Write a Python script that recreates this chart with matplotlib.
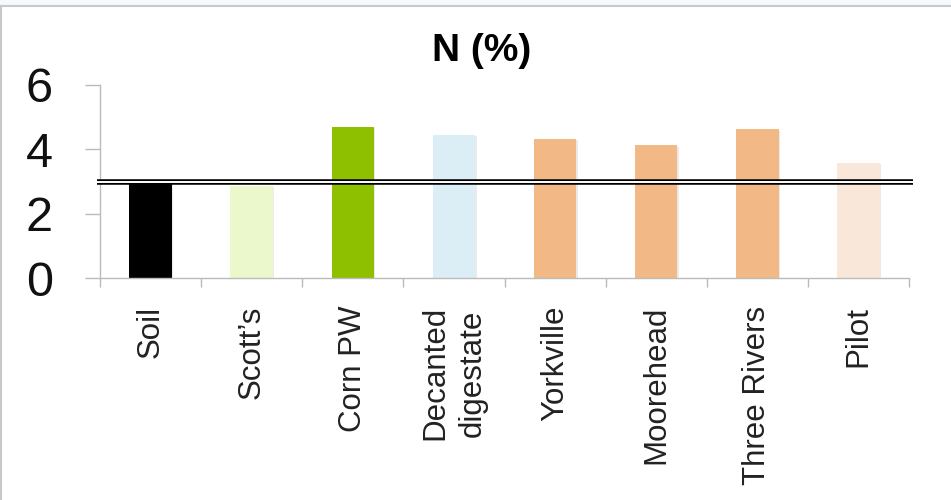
import matplotlib
matplotlib.use('Agg')
import matplotlib.pyplot as plt
import matplotlib.patheffects as pe
from matplotlib.lines import Line2D
from matplotlib.patches import Rectangle

## dados
categorias = ['Soil', 'Scott\u2019s', 'Corn PW', 'Decanted\ndigestate',
              'Yorkville', 'Moorehead', 'Three Rivers', 'Pilot']
n_pct = [2.93, 2.87, 4.70, 4.45, 4.32, 4.12, 4.62, 3.59]
cores = ['#000000', '#EBF8CC', '#8FC000', '#DBEEF5',
         '#F2B987', '#F2B987', '#F2B987', '#F9E7D9']
limite = 3.0  # linha dupla de referencia
yticks = [0, 2, 4, 6]

plt.rcParams['font.family'] = ['Liberation Sans', 'DejaVu Sans']

fig = plt.figure(figsize=(9.51, 5.0), dpi=100)
ax = fig.add_axes([0.1052, 0.444, 0.8506, 0.386])

x = list(range(len(categorias)))
bars = ax.bar(x, n_pct, width=0.42, color=cores, zorder=2)
for b in bars:
    b.set_path_effects([pe.SimplePatchShadow(offset=(1.0, -1.0), shadow_rgbFace='#999999', alpha=0.2),
                        pe.Normal()])

# linha dupla
ax.plot([-0.53, 7.54], [limite, limite], color='black', lw=4.0, clip_on=False, zorder=3,
        solid_capstyle='butt')
ax.plot([-0.53, 7.54], [limite, limite], color='white', lw=1.4, clip_on=False, zorder=4,
        solid_capstyle='butt')

ax.set_xlim(-0.5, 7.5)
ax.set_ylim(0, 6)
ax.set_yticks(yticks)
ax.set_yticklabels([str(v) for v in yticks], fontsize=35, color='#111111')
ax.tick_params(axis='y', length=10.8, width=1, color='#BBBBBB', pad=23)

ax.set_xticks(x)
ax.set_xticklabels(categorias, rotation=90, fontsize=22.5, color='#222222',
                   va='top', ha='center', linespacing=1.3)
ax.tick_params(axis='x', which='major', length=0, pad=20)
ax.set_xticks([i - 0.5 for i in range(len(categorias) + 1)], minor=True)
ax.tick_params(axis='x', which='minor', length=6.5, width=1, color='#BBBBBB')

for s in ['top', 'right']:
    ax.spines[s].set_visible(False)
for s in ['left', 'bottom']:
    ax.spines[s].set_color('#BBBBBB')
    ax.spines[s].set_linewidth(1)

fig.text(0.506, 0.898, 'N (%)', fontsize=28, fontweight='bold', ha='center', va='center')

# moldura
fig.add_artist(Rectangle((0, 0.99), 1, 0.01, transform=fig.transFigure,
                         facecolor='#F4F9FC', edgecolor='none'))
fig.add_artist(Line2D([0, 1], [0.989, 0.989], transform=fig.transFigure,
                      color='#C8C8C8', lw=1.5))
fig.add_artist(Line2D([0.001, 0.001], [0, 0.989], transform=fig.transFigure,
                      color='#C8C8C8', lw=1.5))

fig.savefig('out.png', dpi=100)
